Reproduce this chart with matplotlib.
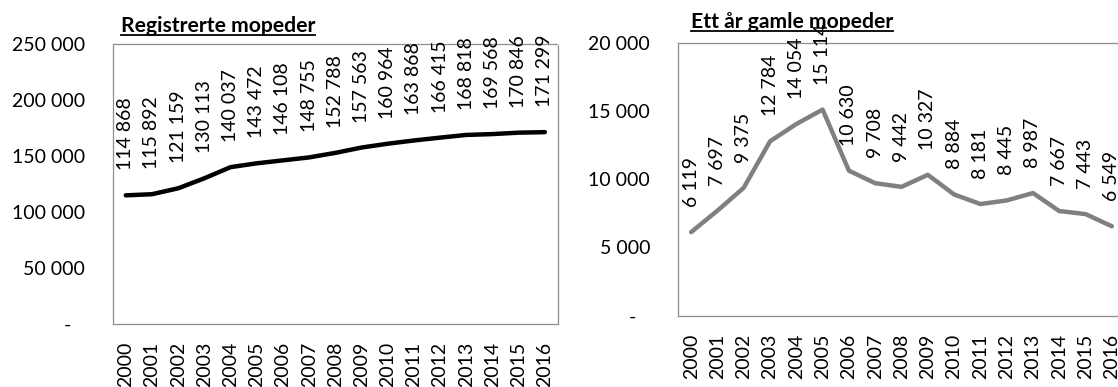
import matplotlib
matplotlib.use("Agg")
import matplotlib.pyplot as plt
from matplotlib.lines import Line2D
from matplotlib.transforms import ScaledTranslation

plt.rcParams['font.family'] = ['Lato', 'DejaVu Sans']

years = [str(y) for y in range(2000, 2017)]
registered = [114868, 115892, 121159, 130113, 140037, 143472, 146108, 148755,
              152788, 157563, 160964, 163868, 166415, 168818, 169568, 170846, 171299]
one_year_old = [6119, 7697, 9375, 12784, 14054, 15114, 10630, 9708,
                9442, 10327, 8884, 8181, 8445, 8987, 7667, 7443, 6549]

left_title = "Registrerte mopeder"
right_title = "Ett år gamle mopeder"
left_yticks = [0, 50000, 100000, 150000, 200000, 250000]
right_yticks = [0, 5000, 10000, 15000, 20000]

W, H, DPI = 1118, 387, 100
FS = 14


def fmt(v):
    return "-" if v == 0 else f"{v:,}".replace(",", " ")


fig = plt.figure(figsize=(W / DPI, H / DPI), dpi=DPI)


def px_axes(left, top, right, bottom):
    return fig.add_axes([left / W, 1 - bottom / H, (right - left) / W, (bottom - top) / H])


def style_axes(ax, values, yticks, color):
    x = list(range(len(values)))
    ax.plot(x, values, color=color, lw=3.2, solid_joinstyle='round',
            solid_capstyle='round', zorder=3)
    ax.set_xlim(-0.5, len(values) - 0.5)
    ax.set_ylim(yticks[0], yticks[-1])
    ax.set_xticks(x)
    ax.set_xticklabels(years, rotation=90, fontsize=FS)
    ax.set_yticks(yticks)
    ax.set_yticklabels([fmt(v) for v in yticks], fontsize=FS)
    ax.tick_params(axis='both', length=0)
    ax.tick_params(axis='y', pad=20)
    ax.tick_params(axis='x', pad=13)
    for sp in ax.spines.values():
        sp.set_linestyle((0, (1, 1)))
        sp.set_color('#8f8f8f')
        sp.set_linewidth(0.9)
    for xi, v in zip(x, values):
        ax.annotate(fmt(v), (xi, v), xytext=(0, 18), textcoords='offset points',
                    rotation=90, ha='center', va='bottom', fontsize=FS,
                    annotation_clip=False, zorder=4)
    # dash for zero sits a little left of the other labels
    lbl = ax.get_yticklabels()[0]
    lbl.set_transform(lbl.get_transform() + ScaledTranslation(-14 / DPI, 0, fig.dpi_scale_trans))


ax1 = px_axes(112.7, 44, 558, 324)
style_axes(ax1, registered, left_yticks, 'black')

ax2 = px_axes(678, 43, 1125, 315.5)
style_axes(ax2, one_year_old, right_yticks, '#808080')


def underlined_title(text, x_px, base_px):
    t = fig.text(x_px / W, 1 - base_px / H, text, fontsize=15.2, fontweight='bold',
                 ha='left', va='baseline')
    fig.canvas.draw()
    bb = t.get_window_extent(fig.canvas.get_renderer())
    y = 1 - (base_px + 3) / H
    fig.add_artist(Line2D([bb.x0 / W, bb.x1 / W], [y, y], transform=fig.transFigure,
                          color='black', lw=1.3))


underlined_title(left_title, 121, 32)
underlined_title(right_title, 691, 28)

fig.savefig("out.png", dpi=DPI)
